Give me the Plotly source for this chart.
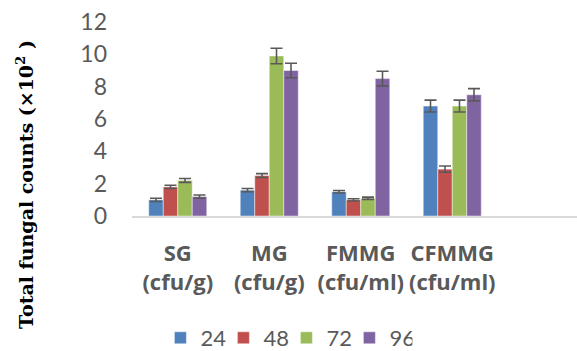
import plotly.graph_objects as go

categories = ["SG<br>(cfu/g)", "MG<br>(cfu/g)", "FMMG<br>(cfu/ml)", "CFMMG<br>(cfu/ml)"]
series_names = ["24", "48", "72", "96"]
values_24 = [1.0, 1.6, 1.5, 6.8]
values_48 = [1.8, 2.5, 1.0, 2.9]
values_72 = [2.2, 9.9, 1.1, 6.8]
values_96 = [1.2, 9.0, 8.5, 7.5]
errors_24 = [0.1, 0.1, 0.08, 0.37]
errors_48 = [0.1, 0.12, 0.07, 0.19]
errors_72 = [0.12, 0.48, 0.07, 0.37]
errors_96 = [0.1, 0.45, 0.45, 0.38]
y_ticks = [0, 2, 4, 6, 8, 10, 12]
y_title = "<b>Total fungal counts (×10<sup>2</sup> )</b>"

colors = ["#4F81BD", "#C0504D", "#9BBB59", "#8064A2"]
all_vals = [values_24, values_48, values_72, values_96]
all_errs = [errors_24, errors_48, errors_72, errors_96]

fig = go.Figure()
for name, vals, errs, col in zip(series_names, all_vals, all_errs, colors):
    fig.add_trace(go.Bar(
        x=categories, y=vals, name=name,
        marker=dict(color=col, line=dict(color="rgba(255,255,255,0.45)", width=1)),
        error_y=dict(type="data", array=errs, visible=True, color="#595959",
                     thickness=1.6, width=6),
    ))

cat_spacing = 91.5
plot_w = 577 - 132
fig.update_layout(
    width=577, height=351,
    margin=dict(l=132, r=0, t=22, b=135),
    paper_bgcolor="white", plot_bgcolor="white",
    barmode="group", bargap=0.366, bargroupgap=0,
    showlegend=True,
    legend=dict(orientation="h", xref="container", yref="container",
                x=0.278, xanchor="left", y=1 - 338 / 351, yanchor="middle",
                font=dict(family="Lato", size=22, color="#595959"),
                itemwidth=30, entrywidth=18, traceorder="normal"),
    xaxis=dict(
        range=[-0.5, -0.5 + plot_w / cat_spacing],
        showgrid=False, zeroline=False,
        showline=True, linecolor="#D9D9D9", linewidth=1.5,
        ticks="", ticklabelstandoff=17, tickangle=0,
        tickfont=dict(family="Open Sans", size=22, color="#595959", weight="bold"),
    ),
    yaxis=dict(
        range=[0, 12], tickvals=y_ticks,
        showgrid=False, zeroline=False, showline=False,
        ticks="", ticklabelstandoff=24,
        tickfont=dict(family="Lato", size=23, color="#595959"),
    ),
    annotations=[dict(
        text=y_title, textangle=-90, showarrow=False,
        xref="paper", yref="paper",
        x=(25 - 132) / plot_w, y=(216 - 185) / 194,
        xanchor="center", yanchor="middle",
        font=dict(family="DejaVu Serif", size=19, color="black"),
    )],
)

fig.write_html("out.html", config={"displayModeBar": False},
               post_script="document.body.style.margin='0px';")
